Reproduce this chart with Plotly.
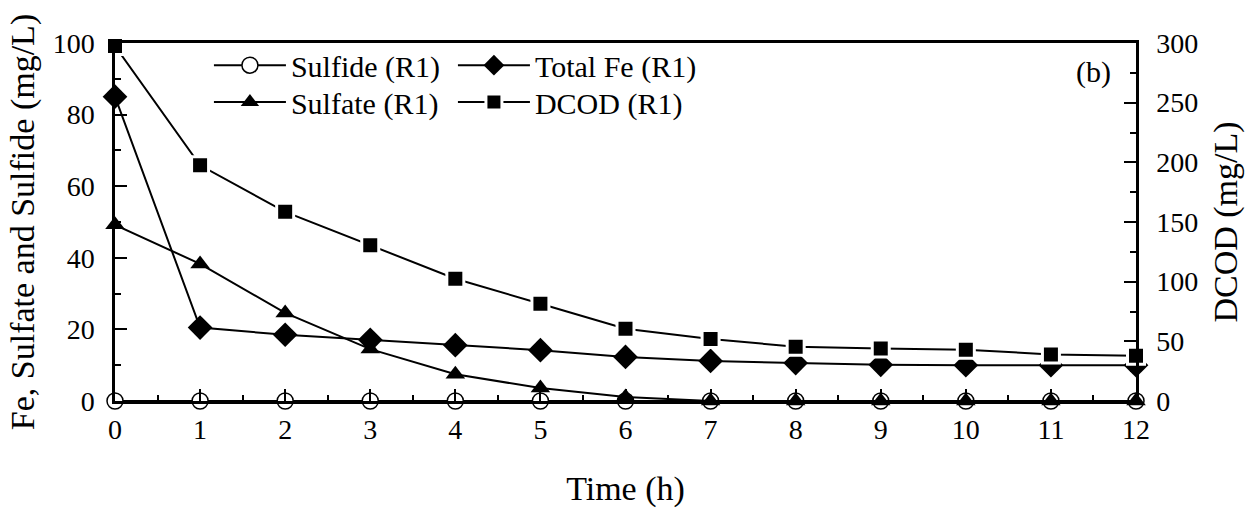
import plotly.graph_objects as go

time_h = [0, 1, 2, 3, 4, 5, 6, 7, 8, 9, 10, 11, 12]
sulfide = [0, 0, 0, 0, 0, 0, 0, 0, 0, 0, 0, 0, 0]
total_fe = [85, 20.5, 18.5, 17.1, 15.6, 14.2, 12.3, 11.2, 10.6, 10.1, 10.0, 10.0, 10.0]
sulfate = [49.2, 38.3, 24.6, 14.5, 7.5, 3.6, 1.1, 0, 0, 0, 0, 0, 0]
dcod = [297.5, 197.5, 158.5, 130.5, 102.5, 81.5, 60.5, 52, 45.5, 44, 43, 39, 38]

FONT = "Times New Roman, Liberation Serif, serif"
LW = 2

fig = go.Figure()
fig.add_trace(go.Scatter(
    x=time_h, y=sulfide, name="Sulfide (R1)", mode="lines+markers",
    line=dict(color="black", width=LW),
    marker=dict(symbol="circle", size=16, color="white", line=dict(color="black", width=1.5)),
    cliponaxis=False, legend="legend"))
fig.add_trace(go.Scatter(
    x=time_h, y=total_fe, name="Total Fe (R1)", mode="lines+markers",
    line=dict(color="black", width=LW),
    marker=dict(symbol="diamond", size=19, color="black"),
    cliponaxis=False, legend="legend"))
fig.add_trace(go.Scatter(
    x=time_h, y=sulfate, name="Sulfate (R1)", mode="lines+markers",
    line=dict(color="black", width=LW),
    marker=dict(symbol="triangle-up", size=17, color="black"),
    cliponaxis=False, legend="legend2"))
fig.add_trace(go.Scatter(
    x=time_h, y=dcod, name="DCOD (R1)", mode="lines+markers", yaxis="y2",
    line=dict(color="black", width=LW),
    marker=dict(symbol="square", size=17, color="black", line=dict(color="white", width=3)),
    cliponaxis=False, legend="legend2"))

axis_common = dict(
    showgrid=False, zeroline=False, showline=True, linecolor="black", linewidth=2.5,
    ticks="inside", tickcolor="black", tickwidth=2, ticklen=12, automargin=False,
    tickfont=dict(family=FONT, size=28, color="black"),
)

legend_common = dict(
    orientation="h", xanchor="left", yanchor="middle",
    font=dict(family=FONT, size=30, color="black"), bgcolor="rgba(0,0,0,0)",
    entrywidth=157, entrywidthmode="pixels", itemwidth=72, traceorder="normal",
)

fig.update_layout(
    width=1257, height=510,
    margin=dict(l=115, r=121, t=43, b=109, autoexpand=False),
    paper_bgcolor="white", plot_bgcolor="white",
    font=dict(family=FONT, color="black"),
    xaxis=dict(
        **axis_common, range=[0, 12], tickmode="linear", tick0=0, dtick=1,
        mirror=True,
        minor=dict(ticks="inside", ticklen=6, tickwidth=2, tickcolor="black", dtick=0.5, tick0=0),
        title=dict(text="Time (h)", font=dict(family=FONT, size=34, color="black"), standoff=32),
        ticklabelstandoff=2,
    ),
    yaxis=dict(
        **axis_common, range=[0, 100], tickmode="linear", tick0=0, dtick=20,
        minor=dict(ticks="inside", ticklen=6, tickwidth=2, tickcolor="black", dtick=10, tick0=0),
        title=dict(text="Fe, Sulfate and Sulfide (mg/L)", font=dict(family=FONT, size=34, color="black"), standoff=8),
        ticklabelstandoff=12,
    ),
    yaxis2=dict(
        **axis_common, range=[0, 300], tickmode="linear", tick0=0, dtick=50,
        overlaying="y", side="right", anchor="x",
        minor=dict(ticks="inside", ticklen=6, tickwidth=2, tickcolor="black", dtick=25, tick0=0),
        title=dict(text="DCOD (mg/L)", font=dict(family=FONT, size=34, color="black"), standoff=16),
        ticklabelstandoff=12,
    ),
    legend=dict(**legend_common, x=0.092, y=0.938),
    legend2=dict(**legend_common, x=0.092, y=0.835),
    annotations=[dict(
        text="(b)", x=0.9775, y=0.92, xref="paper", yref="paper",
        xanchor="right", yanchor="middle", showarrow=False,
        font=dict(family=FONT, size=30, color="black"),
    )],
)

fig.write_html("out.html")
